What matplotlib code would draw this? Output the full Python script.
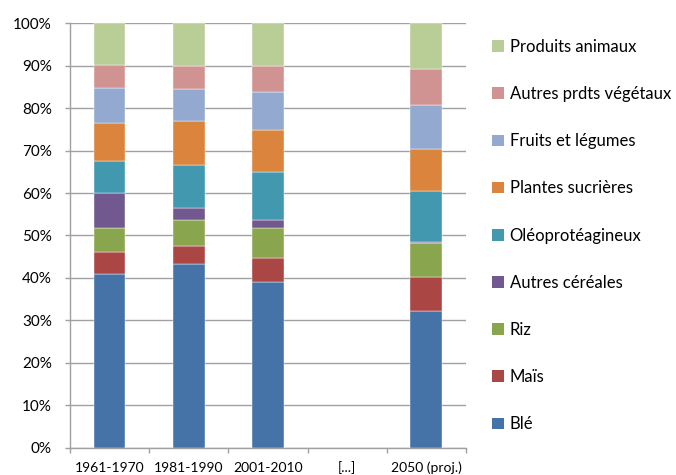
import matplotlib
matplotlib.use("Agg")
import matplotlib.pyplot as plt
import numpy as np
from matplotlib.patches import Patch
from matplotlib.ticker import FixedLocator, PercentFormatter

plt.rcParams["font.family"] = ["Lato", "DejaVu Sans"]

# ---------------------------------------------------------------------------
# Data (share of each group, % of total)
# "[...]" is an empty placeholder column -> NaN
# ---------------------------------------------------------------------------
periods = ["1961-1970", "1981-1990", "2001-2010", "[...]", "2050 (proj.)"]
series_names = [
    "Blé", "Maïs", "Riz", "Autres céréales", "Oléoprotéagineux",
    "Plantes sucrières", "Fruits et légumes", "Autres prdts végétaux",
    "Produits animaux",
]

nan = float("nan")
ble          = [41.0, 43.2, 39.1, nan, 32.2]
mais         = [5.1, 4.3, 5.6, nan, 8.1]
riz          = [5.7, 6.1, 7.1, nan, 7.9]
autres_cer   = [8.3, 2.9, 1.9, nan, 0.3]
oleo         = [7.4, 10.2, 11.3, nan, 11.9]
sucrieres    = [8.9, 10.2, 9.8, nan, 10.0]
fruits_leg   = [8.4, 7.7, 8.9, nan, 10.3]
autres_veg   = [5.3, 5.4, 6.2, nan, 8.5]
animaux      = [9.9, 10.0, 10.1, nan, 10.8]

colors = ["#4572A7", "#AA4643", "#89A54E", "#71588F", "#4198AF",
          "#DB843D", "#93A9CF", "#D19392", "#B9CD96"]

# ---------------------------------------------------------------------------
# Plot
# ---------------------------------------------------------------------------
series = [ble, mais, riz, autres_cer, oleo, sucrieres, fruits_leg,
          autres_veg, animaux]
data = np.array(series, dtype=float)
data = data / data.sum(axis=0) * 100

fig = plt.figure(figsize=(6.76, 4.75), dpi=100)
ax = fig.add_axes([0.1036, 0.0575, 0.5855, 0.8935])

x = np.arange(len(periods))
bottom = np.zeros(len(periods))
for vals, col in zip(data, colors):
    ax.bar(x, vals, width=0.4, bottom=bottom, color=col, zorder=3,
           edgecolor="white", linewidth=0.3)
    bottom += vals

ax.set_xlim(-0.5, len(periods) - 0.5)
ax.set_ylim(0, 100)
ax.yaxis.set_major_locator(FixedLocator(np.arange(0, 101, 10)))
ax.yaxis.set_major_formatter(PercentFormatter(decimals=0))
ax.grid(axis="y", color="#A0A0A0", linewidth=1.0, zorder=0)

ax.set_xticks(x)
ax.set_xticklabels(periods)
ax.set_xticks(np.arange(-0.5, len(periods), 1), minor=True)
ax.tick_params(axis="x", which="major", length=0, pad=10, labelsize=10,
               colors="#000000")
ax.tick_params(axis="x", which="minor", length=3.6, color="#A0A0A0", width=1)
ax.tick_params(axis="y", length=3.6, color="#A0A0A0", width=1, labelsize=11,
               pad=9.4)

for side in ["top", "right"]:
    ax.spines[side].set_visible(False)
for side in ["left", "bottom"]:
    ax.spines[side].set_color("#A0A0A0")
    ax.spines[side].set_linewidth(1)

handles = [Patch(facecolor=c, label=n) for c, n in zip(colors, series_names)]
fig.legend(handles=handles[::-1], loc="upper left",
           bbox_to_anchor=(0.718, 0.932), frameon=False, fontsize=12,
           handlelength=0.7, handleheight=0.7, handletextpad=0.35,
           labelspacing=1.87, borderaxespad=0)

fig.savefig("out.png", dpi=100)
